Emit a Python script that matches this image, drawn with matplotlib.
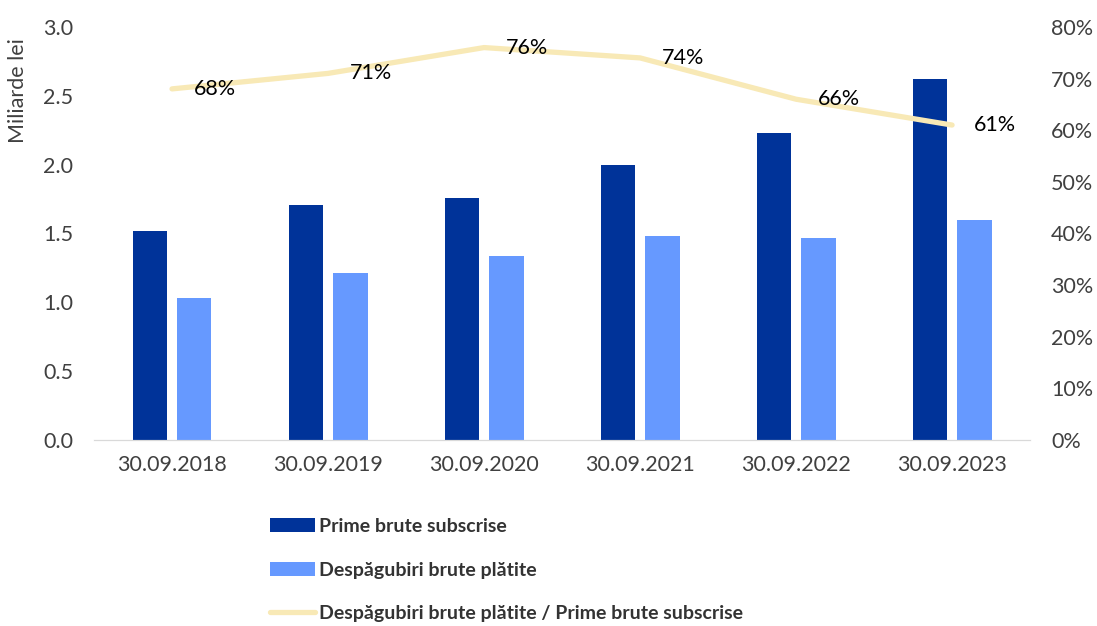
import matplotlib.pyplot as plt
import numpy as np
from matplotlib.patches import Patch
from matplotlib.lines import Line2D

plt.rcParams['font.family'] = ['Lato', 'DejaVu Sans']

dates = ["30.09.2018", "30.09.2019", "30.09.2020", "30.09.2021", "30.09.2022", "30.09.2023"]
prime = [1.52, 1.71, 1.76, 2.00, 2.23, 2.62]
despagubiri = [1.03, 1.21, 1.34, 1.48, 1.47, 1.60]
ratio = [68, 71, 76, 74, 66, 61]

darkBlue = "#003399"
lightBlue = "#6699FF"
paleYellow = "#F8E9B6"
textGray = "#404040"
fs = 15.5

fig = plt.figure(figsize=(10.97, 6.26), dpi=100)
ax = fig.add_axes([0.0857, 0.297, 0.8533, 0.660])
ax2 = ax.twinx()

x = np.arange(len(dates))
w = 0.22
ax.bar(x - 0.143, prime, width=w, color=darkBlue, zorder=2)
ax.bar(x + 0.143, despagubiri, width=w, color=lightBlue, zorder=2)

ax2.plot(x, ratio, color=paleYellow, linewidth=3.8, solid_capstyle='round', zorder=3)
for i, v in enumerate(ratio):
    ax2.annotate(str(v) + "%", (x[i], v), xytext=(22, 0), textcoords='offset pixels',
                 ha='left', va='center', fontsize=fs, color='black')

ax.set_xlim(-0.5, len(dates) - 0.5)
ax.set_ylim(0, 3.0)
ax.set_yticks(np.arange(0, 3.01, 0.5))
ax.set_yticklabels(["%.1f" % t for t in np.arange(0, 3.01, 0.5)])
ax2.set_ylim(0, 80)
ax2.set_yticks(np.arange(0, 81, 10))
ax2.set_yticklabels([str(t) + "%" for t in range(0, 81, 10)])

ax.set_xticks(x)
ax.set_xticklabels(dates)

for a in (ax, ax2):
    for s in ('top', 'left', 'right'):
        a.spines[s].set_visible(False)
    a.spines['bottom'].set_color('#D9D9D9')
    a.tick_params(length=0, labelsize=fs, colors=textGray)
ax.tick_params(axis='y', pad=15)
ax2.tick_params(axis='y', pad=15)
ax.tick_params(axis='x', pad=11)

ax.set_ylabel("Miliarde lei", fontsize=fs, color=textGray)
ax.yaxis.set_label_coords(-0.0705, 0.847)

handles = [
    Patch(facecolor=darkBlue, edgecolor='none'),
    Patch(facecolor=lightBlue, edgecolor='none'),
    Line2D([0], [0], color=paleYellow, linewidth=3.8, solid_capstyle='round'),
]
labels = ["Prime brute subscrise", "Despăgubiri brute plătite",
          "Despăgubiri brute plătite / Prime brute subscrise"]
leg = fig.legend(handles, labels, loc='upper left', bbox_to_anchor=(0.246, 0.1725),
                 frameon=False, fontsize=14, handlelength=2.32, handletextpad=0.2,
                 labelspacing=1.37, borderaxespad=0, borderpad=0)
for t in leg.get_texts():
    t.set_fontweight('bold')
    t.set_color('#333333')

fig.savefig("out.png", dpi=100)
